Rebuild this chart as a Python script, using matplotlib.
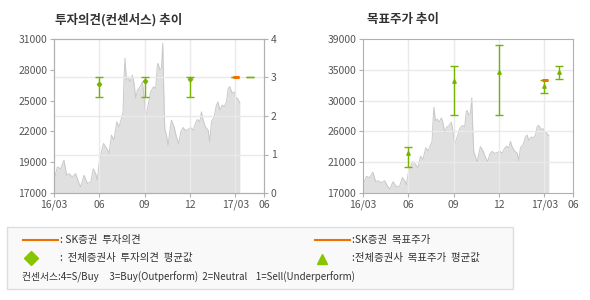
import matplotlib.pyplot as plt
import numpy as np
from matplotlib.lines import Line2D
from matplotlib.patches import Rectangle

plt.rcParams['font.family'] = ['Noto Sans CJK KR', 'DejaVu Sans']

# 주가 (months since 16/03)
price_month = [0, 0.22, 0.44, 0.66, 0.84, 0.99, 1.21, 1.43, 1.66, 1.77, 1.99, 2.21, 2.43, 2.60, 2.76,
               2.87, 2.98, 3.09, 3.27, 3.49, 3.64, 3.80, 3.97, 4.15, 4.30, 4.46, 4.57, 4.64, 4.70, 4.79,
               4.90, 5.03, 5.19, 5.30, 5.41, 5.52, 5.70, 5.85, 5.96, 6.07, 6.23, 6.40, 6.58, 6.73, 6.84,
               6.89, 7.00, 7.11, 7.20, 7.26, 7.33, 7.44, 7.55, 7.66, 7.77, 7.95, 8.10, 8.26, 8.39, 8.55,
               8.70, 8.88, 9.05, 9.21, 9.36, 9.49, 9.65, 9.76, 9.87, 10.02, 10.20, 10.31, 10.42, 10.60,
               10.75, 10.86, 10.97, 11.13, 11.26, 11.42, 11.53, 11.64, 11.79, 11.92, 12.01, 12.14, 12.30]
price = [18160, 19370, 19200, 19980, 18610, 18760, 18460, 18760, 17860, 17560, 18610, 17860, 18000,
         19200, 18760, 18160, 19670, 20430, 21500, 21050, 20600, 22260, 21800, 23470, 23000, 23770,
         24380, 27570, 29240, 27270, 27570, 27120, 27720, 26960, 25600, 26350, 26650, 27120, 25750,
         23920, 24990, 26200, 26650, 26500, 28630,
         28790, 28180, 28330, 30610, 26660, 22870, 22260, 21340, 22560, 23620, 23010, 22100, 21500,
         22560, 22950, 22660, 22780, 22950, 22710, 23320, 23680, 23470, 24380, 23620, 23010, 22710,
         21650, 23470, 23920, 24990, 25290, 24530, 24990, 24840, 25290, 26510, 26660, 26050, 26200,
         25750, 25600, 25200]

# 투자의견 평균 (error bars)
op_month = [3, 6, 9, 11.95, 12.95]
op_avg = [2.84, 2.9, 2.96, 3.0, 3.0]
op_low = [2.5, 2.5, 2.5, 3.0, 3.0]
op_high = [3.0, 3.0, 3.0, 3.0, 3.0]
sk_op_month = [11.85, 12.25]
sk_op = [3, 3]

# 목표주가 평균
tp_month = [3, 6, 9, 11.95, 12.95]
tp_avg = [22760, 32990, 34320, 32270, 34320]
tp_low = [20670, 28080, 28080, 31230, 33230]
tp_high = [23530, 35090, 38100, 33130, 35090]
sk_tp_month = [11.85, 12.25]
sk_tp = [33170, 33170]

xtick_pos = [0, 3, 6, 9, 12, 13.9]
xtick_lab = ['16/03', '06', '09', '12', '17/03', '06']
left_ylab = ['17000', '19000', '22000', '25000', '28000', '31000']
right_ylab = ['17000', '21000', '26000', '30000', '35000', '39000']

green = '#77b300'
orange = '#f07000'
grid_c = '#eaeaea'
spine_c = '#b0b0b0'
txt_c = '#555555'

fig = plt.figure(figsize=(5.9, 3.0), dpi=100)


def base_axes(rect, ymin, ymax, ylabels):
    ax = fig.add_axes(rect)
    ax.fill_between(price_month, price, ymin, color='#e0e0e0', lw=0, zorder=1)
    ax.plot(price_month, price, color='#c8c8c8', lw=0.7, zorder=1.1)
    ax.set_xlim(0, 13.9)
    ax.set_ylim(ymin, ymax)
    ax.set_xticks(xtick_pos)
    ax.set_xticklabels(xtick_lab)
    ax.set_yticks(np.linspace(ymin, ymax, 6))
    ax.set_yticklabels(ylabels)
    for x in xtick_pos[1:5]:
        ax.axvline(x, color=grid_c, lw=1, zorder=1.5)
    for s in ax.spines.values():
        s.set_color(spine_c)
    ax.tick_params(colors=spine_c, labelcolor=txt_c, labelsize=7.5, length=3, pad=2)
    return ax


def avg_bars(ax, xs, avg, low, high, marker, ms):
    avg, low, high = np.array(avg), np.array(low), np.array(high)
    ax.errorbar(xs, avg, yerr=[avg - low, high - avg], fmt='none', ecolor=green,
                elinewidth=1, capsize=3.1, capthick=1, zorder=3)
    has_range = high > low
    ax.plot(np.array(xs)[has_range], avg[has_range], marker, ms=ms, color=green, lw=0, zorder=3)


# 왼쪽: 투자의견
ax1 = base_axes([54 / 590, 107 / 300, 210 / 590, 154 / 300], 17000, 31000, left_ylab)
ax1r = ax1.twinx()
ax1r.set_ylim(0, 4)
ax1r.set_yticks([0, 1, 2, 3, 4])
ax1r.tick_params(colors=spine_c, labelcolor=txt_c, labelsize=7.5, length=3, pad=2)
for s in ax1r.spines.values():
    s.set_color(spine_c)
for v in [1, 2, 3]:
    ax1r.axhline(v, color=grid_c, lw=1, zorder=0.5)
avg_bars(ax1r, op_month, op_avg, op_low, op_high, 'D', 2.2)
ax1r.plot(sk_op_month, sk_op, color=orange, lw=2.2, solid_capstyle='butt', zorder=4)
fig.text(55 / 590, 1 - 20 / 300, '투자의견(컨센서스) 추이', fontsize=9, fontweight='bold',
         color='#333333', va='center')

# 오른쪽: 목표주가
ax2 = base_axes([363 / 590, 107 / 300, 210 / 590, 154 / 300], 17000, 39000, right_ylab)
for v in np.linspace(17000, 39000, 6)[1:5]:
    ax2.axhline(v, color=grid_c, lw=1, zorder=1.5)
avg_bars(ax2, tp_month, tp_avg, tp_low, tp_high, '^', 2.5)
ax2.plot(sk_tp_month, sk_tp, color=orange, lw=2.2, solid_capstyle='butt', zorder=4)
fig.text(367 / 590, 1 - 20 / 300, '목표주가 추이', fontsize=9, fontweight='bold',
         color='#333333', va='center')

# 범례 박스
fig.patches.append(Rectangle((7 / 590, 1 - 289 / 300), 506 / 590, 62 / 300,
                             transform=fig.transFigure, facecolor='#f9f9f9',
                             edgecolor='#dddddd', lw=1))
fig.lines.append(Line2D([23 / 590, 58 / 590], [1 - 240 / 300] * 2, transform=fig.transFigure,
                        color=orange, lw=1.5))
fig.lines.append(Line2D([315 / 590, 350 / 590], [1 - 240 / 300] * 2, transform=fig.transFigure,
                        color=orange, lw=1.5))
fig.lines.append(Line2D([31 / 590], [1 - 258 / 300], transform=fig.transFigure,
                        marker='D', ms=7.5, color='#88c400', lw=0))
fig.lines.append(Line2D([322 / 590], [1 - 259 / 300], transform=fig.transFigure,
                        marker='^', ms=7, color='#88c400', lw=0))
lg = dict(fontsize=7.5, color='#333333', va='center')
fig.text(60 / 590, 1 - 240 / 300, ': SK증권  투자의견', **lg)
fig.text(60 / 590, 1 - 258 / 300, ':  전체증권사  투자의견  평균값', **lg)
fig.text(352 / 590, 1 - 240 / 300, ':SK증권  목표주가', **lg)
fig.text(352 / 590, 1 - 258 / 300, ':전체증권사  목표주가  평균값', **lg)
fig.text(22 / 590, 1 - 277 / 300,
         '컨센서스:4=S/Buy     3=Buy(Outperform)  2=Neutral    1=Sell(Underperform)',
         fontsize=7, color='#333333', va='center')

fig.savefig('out.png', dpi=100)
